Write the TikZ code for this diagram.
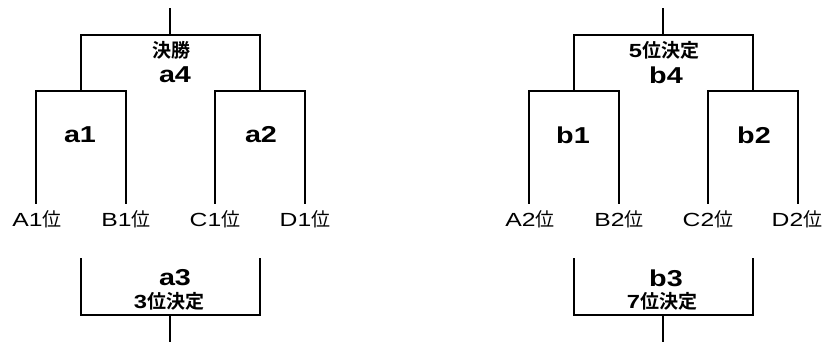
\documentclass[tikz,border=0pt]{standalone}
\usepackage{fontspec}
\setmainfont{Noto Sans CJK JP}
\newfontfamily\jp{Noto Sans CJK JP}
\newfontfamily\jpb{Noto Sans CJK JP Bold}
\newfontfamily\lat[FakeStretch=1.3]{Liberation Sans}
\newfontfamily\latb[FakeStretch=1.25]{Liberation Sans Bold}
\begin{document}
\begin{tikzpicture}[x=1pt,y=-1pt,
  ln/.style={line width=2pt,line cap=rect,line join=miter},
  seed/.style={inner sep=0pt,font={\lat\fontsize{19}{19}\selectfont}},
  mname/.style={inner sep=0pt,font={\latb\fontsize{23}{23}\selectfont}},
  mword/.style={inner sep=0pt,font={\jpb\fontsize{19}{19}\selectfont}}]
\useasboundingbox (0,0) rectangle (829,342);
% ---------- left half ----------
\coordinate (atop) at (170,9);
\coordinate (abot) at (170,342);
\node[mword] (w4) at (171,50) {決勝};
\node[mname] (a4) at (175,75) {a4};
\node[mname] (a1) at (80,135) {a1};
\node[mname] (a2) at (261,135) {a2};
\node[mname] (a3) at (175,278) {a3};
\node[mword] (w3) at (169,301) {{\latb 3}位決定};
\node[seed] (A1) at (37,219) {A1{\jp 位}};
\node[seed] (B1) at (126,219) {B1{\jp 位}};
\node[seed] (C1) at (215,219) {C1{\jp 位}};
\node[seed] (D1) at (305,219) {D1{\jp 位}};
\coordinate (a4c) at (170,35);
\coordinate (a3c) at (170,315);
\draw[ln] (atop) -- (a4c);
\draw[ln] (81,91) |- (a4c) -| (260,91);
\draw[ln] (36,203) |- (126,91) -- (126,203);
\draw[ln] (215,203) |- (305,91) -- (305,203);
\draw[ln] (81,259) |- (a3c) -| (260,259);
\draw[ln] (a3c) -- (abot);
% ---------- right half ----------
\coordinate (btop) at (663,9);
\coordinate (bbot) at (663,342);
\node[mword] (v4) at (664,50) {{\latb 5}位決定};
\node[mname] (b4) at (666,75) {b4};
\node[mname] (b1) at (573,135) {b1};
\node[mname] (b2) at (754,135) {b2};
\node[mname] (b3) at (666,278) {b3};
\node[mword] (v3) at (662,301) {{\latb 7}位決定};
\node[seed] (A2) at (530,219) {A2{\jp 位}};
\node[seed] (B2) at (619,219) {B2{\jp 位}};
\node[seed] (C2) at (708,219) {C2{\jp 位}};
\node[seed] (D2) at (797,219) {D2{\jp 位}};
\coordinate (b4c) at (663,35);
\coordinate (b3c) at (663,315);
\draw[ln] (btop) -- (b4c);
\draw[ln] (574,91) |- (b4c) -| (753,91);
\draw[ln] (529,203) |- (619,91) -- (619,203);
\draw[ln] (708,203) |- (798,91) -- (798,203);
\draw[ln] (574,259) |- (b3c) -| (753,259);
\draw[ln] (b3c) -- (bbot);
\end{tikzpicture}
\end{document}
